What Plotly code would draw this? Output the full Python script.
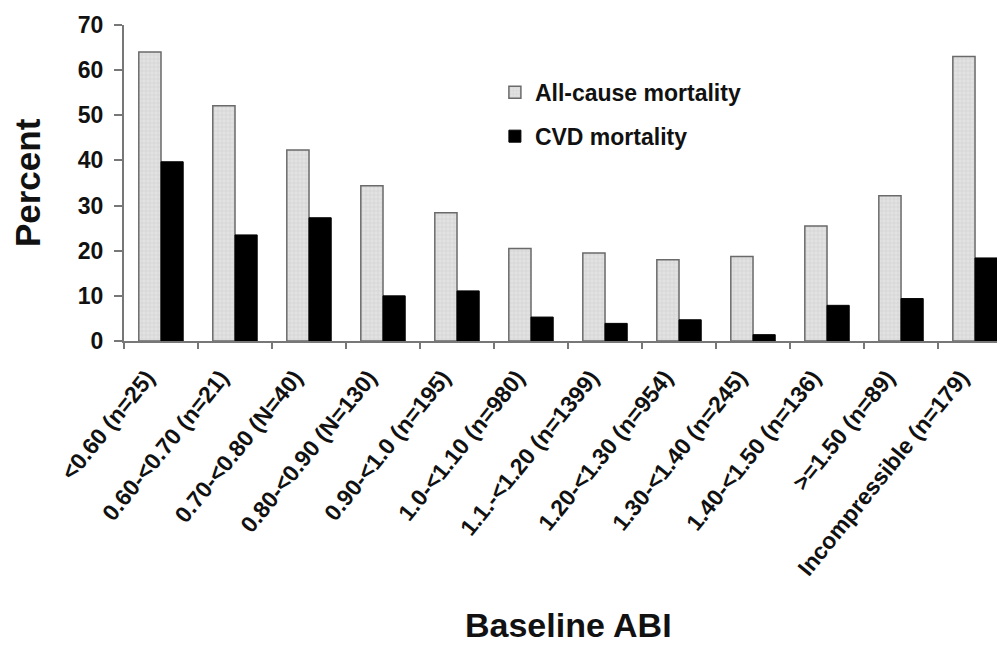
import plotly.graph_objects as go

categories = ["<0.60 (n=25)", "0.60-<0.70 (n=21)", "0.70-<0.80 (N=40)", "0.80-<0.90 (N=130)",
              "0.90-<1.0 (n=195)", "1.0-<1.10 (n=980)", "1.1.-<1.20 (n=1399)", "1.20-<1.30 (n=954)",
              "1.30-<1.40 (n=245)", "1.40-<1.50 (n=136)", ">=1.50 (n=89)", "Incompressible (n=179)"]
all_cause = [64.0, 52.1, 42.3, 34.4, 28.4, 20.5, 19.5, 18.0, 18.7, 25.5, 32.2, 63.0]
cvd = [39.7, 23.5, 27.3, 10.0, 11.1, 5.3, 3.9, 4.7, 1.4, 7.9, 9.4, 18.4]
y_ticks = [0, 10, 20, 30, 40, 50, 60, 70]

FONT = "Liberation Sans, Arial, sans-serif"

fig = go.Figure()
fig.add_trace(go.Bar(
    x=categories, y=all_cause, name="All-cause mortality", legendgroup="a",
    marker=dict(color="#dcdcdc", line=dict(color="#6a6a6a", width=1.5),
                pattern=dict(shape="+", fgcolor="#cfcfcf", bgcolor="#e2e2e2", size=4, solidity=0.25)),
))
fig.add_trace(go.Bar(
    x=categories, y=cvd, name="CVD mortality", legendgroup="b",
    marker=dict(color="#000000", line=dict(color="#000000", width=1)),
))

# the page body has an 8px default margin, so the figure is laid out 8px up/left
fig.update_layout(
    template="none",
    width=1005, height=646,
    margin=dict(l=116, r=8, t=17, b=313, autoexpand=False),
    paper_bgcolor="white", plot_bgcolor="white",
    barmode="group", bargap=0.4, bargroupgap=0,
    font=dict(family=FONT, color="#111111", weight="bold"),
    showlegend=True,
    legend=dict(x=0.421, y=0.855, xanchor="left", yanchor="top",
                font=dict(size=23, family=FONT, weight="bold", color="#111111"),
                bgcolor="rgba(0,0,0,0)", tracegroupgap=11, traceorder="grouped",
                itemwidth=30),
    xaxis=dict(
        type="category", range=[-0.5, 11.405], showgrid=False, automargin=False,
        showline=True, linecolor="#777777", linewidth=2,
        ticks="outside", tickson="boundaries", ticklen=6, tickcolor="#777777", tickwidth=1.5,
        tickangle=-51, tickfont=dict(size=23, family=FONT, weight="bold", color="#111111"),
        ticklabelstandoff=12, ticklabelshift=-14,
    ),
    yaxis=dict(
        range=[0, 70], tickvals=y_ticks, showgrid=False, zeroline=False, automargin=False,
        showline=True, linecolor="#777777", linewidth=2,
        ticks="outside", ticklen=8, tickcolor="#777777", tickwidth=1.5,
        tickfont=dict(size=23, family=FONT, weight="bold", color="#111111"),
        ticklabelstandoff=6,
    ),
    annotations=[
        dict(text="Percent", xref="paper", yref="paper", x=-0.11, y=0.50,
             xanchor="center", yanchor="middle", textangle=-90, showarrow=False,
             font=dict(size=35, family=FONT, weight="bold", color="#111111")),
        dict(text="Baseline ABI", xref="paper", yref="paper", x=0.505, y=-0.965,
             xanchor="center", yanchor="bottom", showarrow=False,
             font=dict(size=34, family=FONT, weight="bold", color="#111111")),
    ],
)

fig.write_html("out.html")
